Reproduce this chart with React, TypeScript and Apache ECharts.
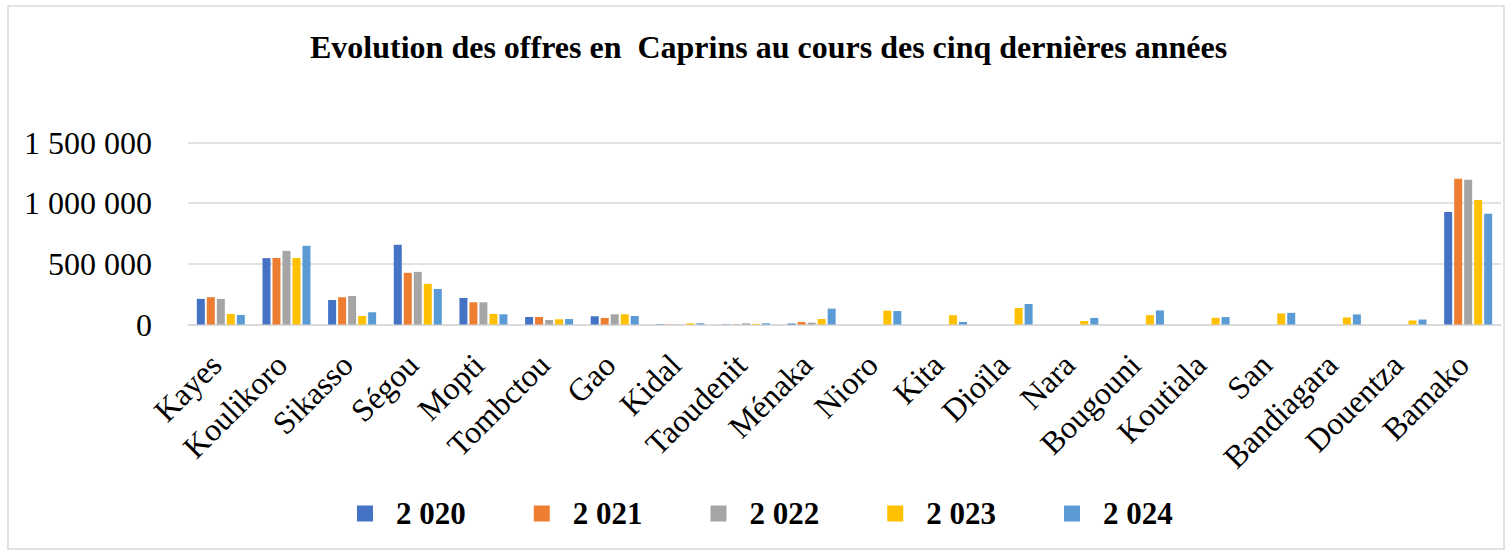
import React, { useEffect, useRef } from "react";
import * as echarts from "echarts";

const categories = [
  "Kayes", "Koulikoro", "Sikasso", "Ségou", "Mopti", "Tombctou", "Gao", "Kidal",
  "Taoudenit", "Ménaka", "Nioro", "Kita", "Dioïla", "Nara", "Bougouni", "Koutiala",
  "San", "Bandiagara", "Douentza", "Bamako",
];

const seriesNames = ["2 020", "2 021", "2 022", "2 023", "2 024"];

const y2020 = [211000, 547000, 202000, 657000, 219000, 62000, 68000, 3000, 2000, 8000, 0, 0, 0, 0, 0, 0, 0, 0, 0, 928000];
const y2021 = [225000, 548000, 225000, 426000, 183000, 62000, 54000, 2000, 2000, 20000, 0, 0, 0, 0, 0, 0, 0, 0, 0, 1201000];
const y2022 = [211000, 607000, 235000, 434000, 183000, 37000, 84000, 1000, 10000, 15000, 0, 0, 0, 0, 0, 0, 0, 0, 0, 1193000];
const y2023 = [87000, 548000, 70000, 335000, 87000, 43000, 84000, 10000, 5000, 45000, 114000, 76000, 136000, 29000, 77000, 55000, 91000, 58000, 33000, 1027000];
const y2024 = [79000, 649000, 101000, 293000, 84000, 45000, 70000, 10000, 10000, 131000, 111000, 21000, 169000, 54000, 116000, 61000, 96000, 83000, 41000, 912000];

const seriesValues = [y2020, y2021, y2022, y2023, y2024];
const colors = ["#4472C4", "#ED7D31", "#A5A5A5", "#FFC000", "#5B9BD5"];

const FONT = "'Liberation Serif', 'Times New Roman', serif";

function fmt(v: number): string {
  return String(Math.round(v)).replace(/\B(?=(\d{3})+(?!\d))/g, " ");
}

export default function App() {
  const ref = useRef<HTMLDivElement>(null);
  useEffect(() => {
    if (!ref.current) return;
    const chart = echarts.init(ref.current, undefined, { renderer: "svg" });
    chart.setOption({
      animation: false,
      backgroundColor: "#ffffff",
      title: {
        text: "Evolution des offres en  Caprins au cours des cinq dernières années",
        left: 305,
        top: 26,
        textStyle: { fontFamily: FONT, fontSize: 32, fontWeight: "bold", color: "#000" },
      },
      graphic: [
        {
          type: "rect",
          shape: { x: 8, y: 6, width: 1496, height: 543 },
          style: { fill: "none", stroke: "#d9d9d9", lineWidth: 1.5 },
          silent: true,
        },
      ],
      legend: {
        left: 352,
        top: 493,
        itemWidth: 16,
        itemHeight: 16,
        itemGap: 68,
        icon: "rect",
        data: seriesNames,
        textStyle: {
          fontFamily: FONT,
          fontSize: 31,
          fontWeight: "bold",
          color: "#000",
          padding: [0, 0, 0, 18],
        },
      },
      grid: { left: 188, right: 9, top: 142.5, bottom: 228.5, containLabel: false },
      xAxis: {
        type: "category",
        data: categories,
        axisTick: { show: false },
        axisLine: { lineStyle: { color: "#d9d9d9", width: 1.5 } },
        axisLabel: {
          rotate: 45,
          interval: 0,
          margin: 30,
          padding: [0, 7, 0, 0],
          fontFamily: FONT,
          fontSize: 32,
          color: "#000",
        },
      },
      yAxis: {
        type: "value",
        min: 0,
        max: 1500000,
        interval: 500000,
        axisLine: { show: false },
        axisTick: { show: false },
        splitLine: { lineStyle: { color: "#d9d9d9", width: 1.5 } },
        axisLabel: {
          margin: 36,
          fontFamily: FONT,
          fontSize: 32,
          color: "#000",
          formatter: (v: number) => fmt(v),
        },
      },
      series: seriesNames.map((name, i) => ({
        name,
        type: "bar",
        data: seriesValues[i],
        barWidth: 8,
        barGap: "25%",
        itemStyle: { color: colors[i] },
      })),
    });
    return () => chart.dispose();
  }, []);
  return (
    <div
      ref={ref}
      style={{ position: "absolute", left: 0, top: 0, width: 1510, height: 553 }}
    />
  );
}
